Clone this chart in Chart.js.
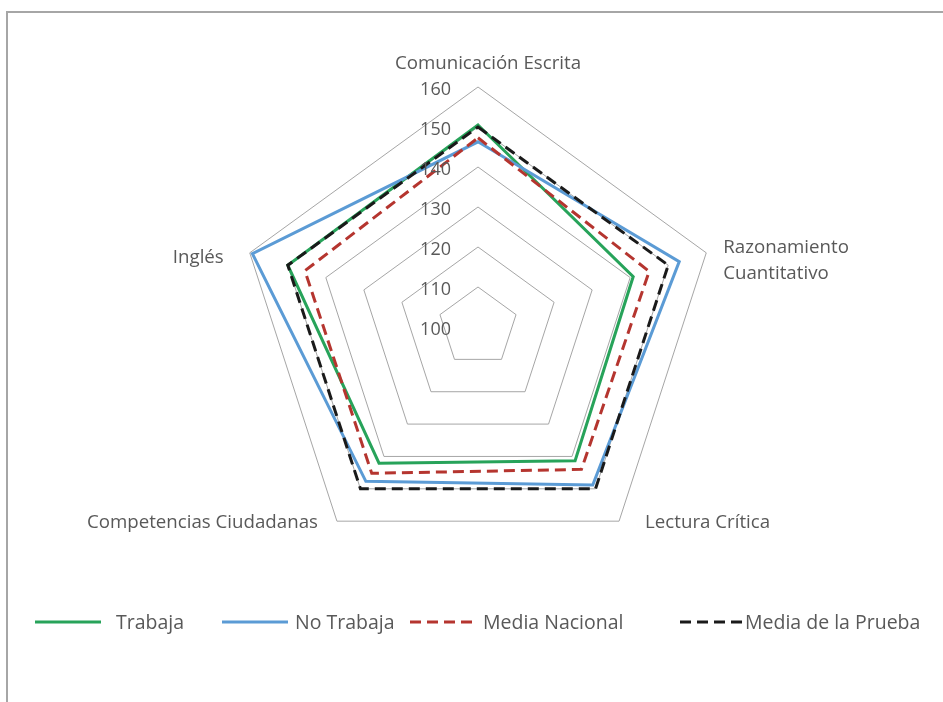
<!DOCTYPE html>
<html>
<head>
<meta charset="utf-8">
<script src="https://cdn.jsdelivr.net/npm/chart.js@4.4.1/dist/chart.umd.min.js"></script>
<style>
  html, body { margin: 0; padding: 0; background: #ffffff; }
  #wrap { position: relative; width: 943px; height: 702px; overflow: hidden; }
  canvas { display: block; }
</style>
</head>
<body>
<div id="wrap"><canvas id="c" width="943" height="702"></canvas></div>
<script>
// ---- Data ----
const categories = ['Comunicación Escrita', ['Razonamiento', 'Cuantitativo'], 'Lectura Crítica', 'Competencias Ciudadanas', 'Inglés'];
const seriesNames = ['Trabaja', 'No Trabaja', 'Media Nacional', 'Media de la Prueba'];
const trabaja = [150.5, 140.8, 141.3, 142.1, 150.0];
const noTrabaja = [146.3, 152.9, 148.8, 147.7, 159.3];
const mediaNacional = [147.3, 145.0, 144.0, 145.2, 145.5];
const mediaPrueba = [150, 150, 150, 150, 150];
const tickLabels = ['100', '110', '120', '130', '140', '150', '160'];
const scaleMin = 100, scaleMax = 160, scaleStep = 10;

const FONT = '"Open Sans", "Noto Sans", sans-serif';
const TEXT_COLOR = '#595959';
const FS_TICK = 18;
const FS_LABEL = 18.7;
const FS_LEGEND = 19.5;

// frame behind everything
const framePlugin = {
  id: 'frame',
  beforeDraw(chart) {
    const ctx = chart.ctx;
    ctx.save();
    ctx.fillStyle = '#ffffff';
    ctx.fillRect(0, 0, chart.width, chart.height);
    ctx.fillStyle = '#a6a6a6';
    ctx.fillRect(6, 11, 2, chart.height);
    ctx.fillRect(6, 11, chart.width, 2);
    ctx.restore();
  }
};

// tick labels & point labels & legend
const labelsPlugin = {
  id: 'labels',
  afterDraw(chart) {
    const ctx = chart.ctx;
    const s = chart.scales.r;
    ctx.save();
    ctx.fillStyle = TEXT_COLOR;
    ctx.textBaseline = 'alphabetic';
    // tick labels
    ctx.font = FS_TICK + 'px ' + FONT;
    ctx.textAlign = 'right';
    tickLabels.forEach(t => {
      const d = s.getDistanceFromCenterForValue(Number(t));
      ctx.fillText(t, s.xCenter - 27, s.yCenter - d + 8);
    });
    // point labels
    ctx.font = FS_LABEL + 'px ' + FONT;
    const offs = [
      { dx: 10, dy: -18, align: 'center' },
      { dx: 17, dy: 0, align: 'left' },
      { dx: 26, dy: 7, align: 'left' },
      { dx: -19, dy: 7, align: 'right' },
      { dx: -26, dy: 10, align: 'right' }
    ];
    categories.forEach((lab, i) => {
      const p = s.getPointPosition(i, s.drawingArea);
      const o = offs[i];
      ctx.textAlign = o.align;
      const lines = Array.isArray(lab) ? lab : [lab];
      lines.forEach((ln, k) => {
        ctx.fillText(ln, p.x + o.dx, p.y + o.dy + k * 26);
      });
    });
    // legend
    ctx.font = FS_LEGEND + 'px ' + FONT;
    const leg = [
      { x1: 35, x2: 101, tx: 116 },
      { x1: 222, x2: 288, tx: 295 },
      { x1: 410, x2: 477, tx: 483 },
      { x1: 680, x2: 742, tx: 745 }
    ];
    const ly = 622;
    chart.data.datasets.forEach((ds, i) => {
      const L = leg[i];
      ctx.save();
      ctx.strokeStyle = ds.borderColor;
      ctx.lineWidth = ds.borderWidth;
      ctx.setLineDash(ds.borderDash || []);
      ctx.beginPath();
      ctx.moveTo(L.x1, ly);
      ctx.lineTo(L.x2, ly);
      ctx.stroke();
      ctx.restore();
      ctx.textAlign = 'left';
      ctx.fillStyle = TEXT_COLOR;
      ctx.fillText(ds.label, L.tx, ly + 7);
    });
    ctx.restore();
  }
};

new Chart(document.getElementById('c'), {
  type: 'radar',
  data: {
    labels: categories,
    datasets: [
      { label: seriesNames[0], data: trabaja, borderColor: '#27a35a', borderWidth: 3, fill: false, order: 4 },
      { label: seriesNames[1], data: noTrabaja, borderColor: '#5b9bd5', borderWidth: 3, fill: false, order: 3 },
      { label: seriesNames[2], data: mediaNacional, borderColor: '#b5352f', borderWidth: 3, borderDash: [11, 6], fill: false, order: 2 },
      { label: seriesNames[3], data: mediaPrueba, borderColor: '#1a1a1a', borderWidth: 3, borderDash: [11, 6], fill: false, order: 1 }
    ]
  },
  options: {
    responsive: false,
    animation: false,
    devicePixelRatio: 1,
    layout: { padding: { left: 238, right: 225, top: 87, bottom: 135 } },
    elements: {
      line: { tension: 0, borderJoinStyle: 'miter' },
      point: { radius: 0, hoverRadius: 0 }
    },
    plugins: {
      legend: { display: false },
      tooltip: { enabled: false },
      title: { display: false }
    },
    scales: {
      r: {
        min: scaleMin,
        max: scaleMax,
        ticks: { stepSize: scaleStep, display: false, showLabelBackdrop: false },
        grid: { color: '#a6a6a6', lineWidth: 1, circular: false },
        angleLines: { display: false },
        pointLabels: { display: false }
      }
    }
  },
  plugins: [framePlugin, labelsPlugin]
});
</script>
</body>
</html>
